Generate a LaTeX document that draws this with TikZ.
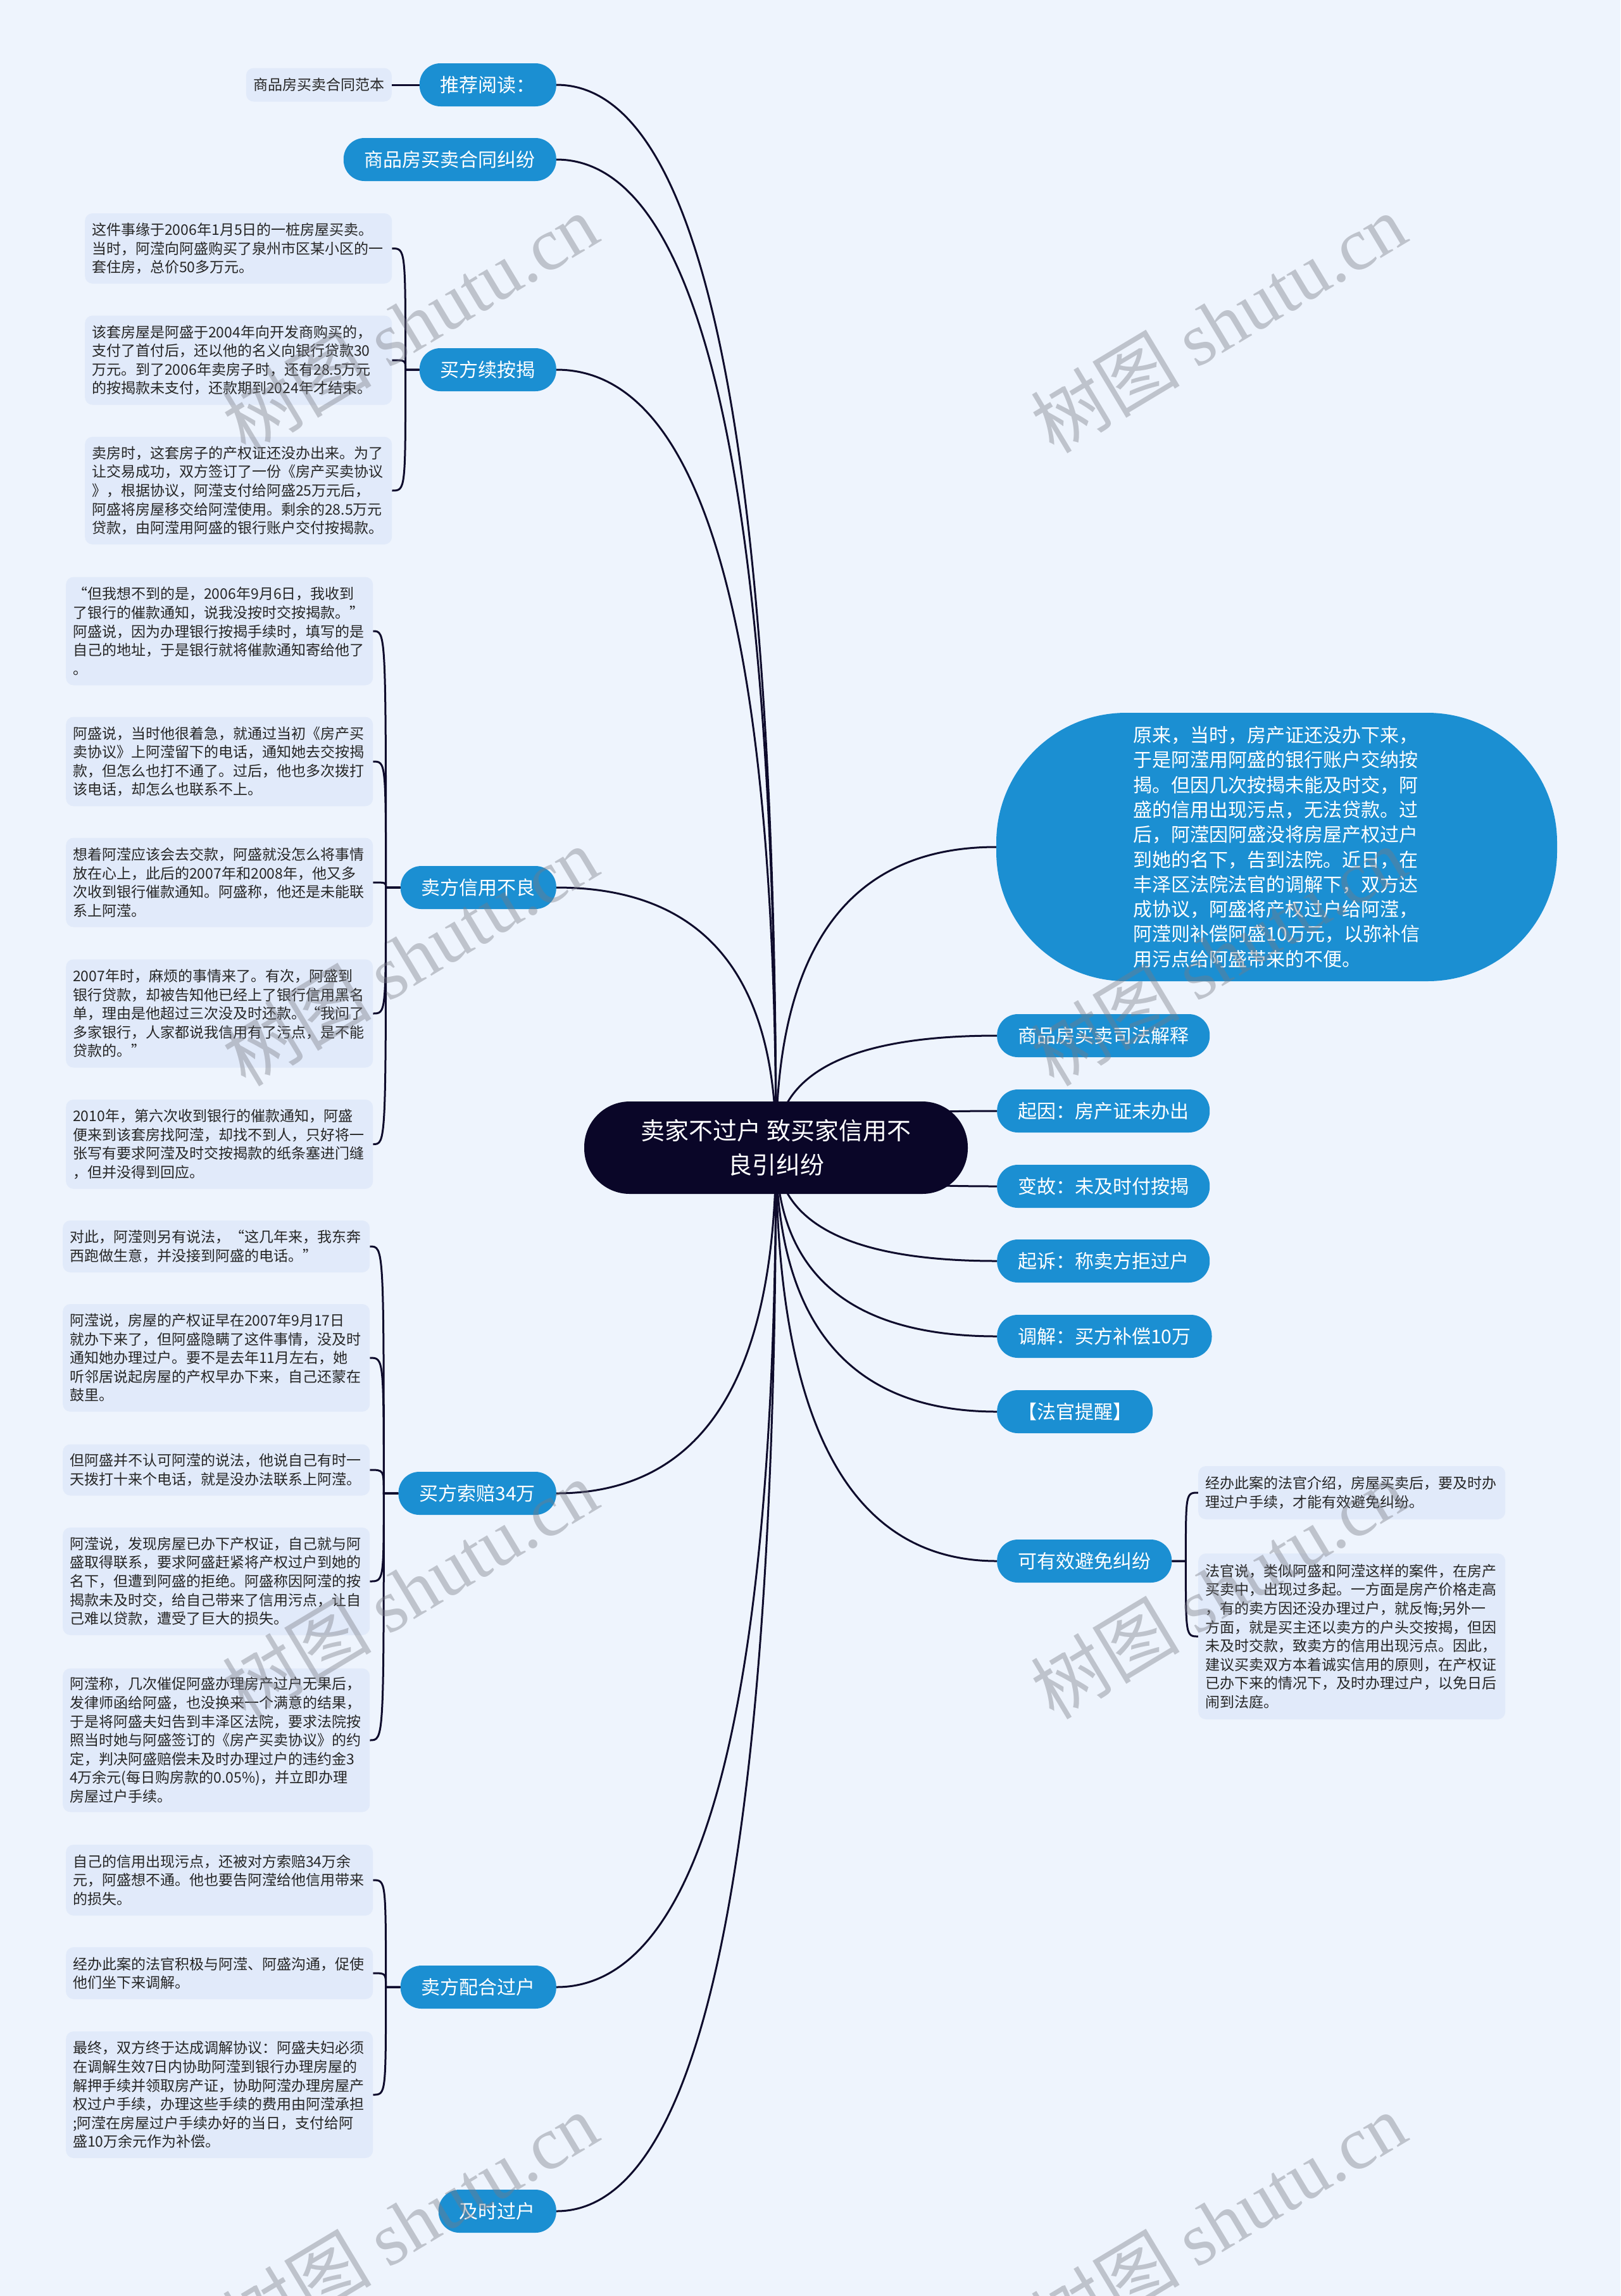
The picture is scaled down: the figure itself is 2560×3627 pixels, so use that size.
\documentclass[tikz,border=0pt]{standalone}
\usepackage{fontspec}
\setmainfont{Noto Sans CJK SC}
\newfontfamily\wmserif{Liberation Serif}
\usetikzlibrary{calc}
\definecolor{bgc}{RGB}{238,244,253}
\definecolor{nodeblue}{RGB}{27,143,210}
\definecolor{leaffill}{RGB}{225,234,250}
\definecolor{leaftext}{RGB}{38,38,38}
\definecolor{rootc}{RGB}{10,6,40}
\definecolor{linec}{RGB}{14,11,44}
\definecolor{wmc}{RGB}{120,122,132}
\pgfdeclarelayer{back}
\pgfdeclarelayer{lines}
\pgfdeclarelayer{front}
\pgfsetlayers{back,lines,main,front}
\tikzset{
  mainnode/.style={rectangle, rounded corners=33pt, fill=nodeblue, text=white,
    font=\fontsize{30pt}{36pt}\selectfont, inner xsep=33pt, inner ysep=0pt, minimum height=68pt},
  leafbox/.style={rectangle, rounded corners=12pt, fill=leaffill, text=leaftext,
    font=\fontsize{23pt}{29.6pt}\selectfont, text width=463pt, align=left,
    inner xsep=11pt, inner ysep=6pt, anchor=west},
  smallleaf/.style={rectangle, rounded corners=12pt, fill=leaffill, text=leaftext,
    font=\fontsize{23pt}{29.6pt}\selectfont, inner xsep=11.5pt, inner ysep=0pt, minimum height=53pt},
  rootnode/.style={rectangle, rounded corners=72pt, fill=rootc, text=white,
    font=\fontsize{38pt}{54pt}\selectfont, align=center, minimum width=606pt, minimum height=146pt},
  blobnode/.style={rectangle, rounded corners=205pt, fill=nodeblue, text=white,
    font=\fontsize{30pt}{39.3pt}\selectfont, align=left, minimum width=886pt, minimum height=424pt},
  link/.style={draw=linec, line width=3pt},
  wm/.style={rotate=31, text=wmc, opacity=0.4, font=\fontsize{118pt}{118pt}\selectfont},
}
\newcommand\rootlink[1]{\draw[link] (ctr) .. controls ($(ctr)!0.6667!(ctr |- #1)$) and ($(#1)!0.6667!(ctr |- #1)$) .. (#1);}
\newcommand\brk[3]{\draw[link] (#3) .. controls (#2 |- #3) and (#2 |- #3) .. (#2) -- (#1);}
\begin{document}
\begin{tikzpicture}[x=1pt,y=-1pt]
\useasboundingbox (0,0) rectangle (2560,3627);
\begin{pgfonlayer}{back}
\fill[bgc] (0,0) rectangle (2560,3627);
\end{pgfonlayer}

% root
\node[rootnode] (root) at (1226,1813) {卖家不过户 致买家信用不\\良引纠纷};
\coordinate (ctr) at (1226,1813);

% left main nodes
\node[mainnode, anchor=east] (n1) at (879,134) {推荐阅读：};
\node[mainnode, anchor=east] (n2) at (879,252) {商品房买卖合同纠纷};
\node[mainnode, anchor=east] (n3) at (879,584) {买方续按揭};
\node[mainnode, anchor=east] (n4) at (879,1402) {卖方信用不良};
\node[mainnode, anchor=east] (n5) at (879,2359) {买方索赔34万};
\node[mainnode, anchor=east] (n6) at (879,3139) {卖方配合过户};
\node[mainnode, anchor=east] (n7) at (879,3493) {及时过户};

% right main nodes
\node[blobnode] (blob) at (2017,1338) {原来，当时，房产证还没办下来，\\于是阿滢用阿盛的银行账户交纳按\\揭。但因几次按揭未能及时交，阿\\盛的信用出现污点，无法贷款。过\\后，阿滢因阿盛没将房屋产权过户\\到她的名下，告到法院。近日，在\\丰泽区法院法官的调解下，双方达\\成协议，阿盛将产权过户给阿滢，\\阿滢则补偿阿盛10万元，以弥补信\\用污点给阿盛带来的不便。};
\node[mainnode, anchor=west] (r1) at (1575,1636) {商品房买卖司法解释};
\node[mainnode, anchor=west] (r2) at (1575,1755) {起因：房产证未办出};
\node[mainnode, anchor=west] (r3) at (1575,1874) {变故：未及时付按揭};
\node[mainnode, anchor=west] (r4) at (1575,1992) {起诉：称卖方拒过户};
\node[mainnode, anchor=west] (r5) at (1575,2111) {调解：买方补偿10万};
\node[mainnode, anchor=west] (r6) at (1575,2230) {【法官提醒】};
\node[mainnode, anchor=west] (r7) at (1575,2466) {可有效避免纠纷};

% leaves
\node[smallleaf, anchor=east] (l11) at (619,134) {商品房买卖合同范本};

\node[leafbox, minimum height=111pt] (l31) at (134,392.5) {这件事缘于2006年1月5日的一桩房屋买卖。\\当时，阿滢向阿盛购买了泉州市区某小区的一\\套住房，总价50多万元。};
\node[leafbox, minimum height=141pt] (l32) at (134,569) {该套房屋是阿盛于2004年向开发商购买的，\\支付了首付后，还以他的名义向银行贷款30\\万元。到了2006年卖房子时，还有28.5万元\\的按揭款未支付，还款期到2024年才结束。};
\node[leafbox, minimum height=170pt] (l33) at (134,775) {卖房时，这套房子的产权证还没办出来。为了\\让交易成功，双方签订了一份《房产买卖协议\\》，根据协议，阿滢支付给阿盛25万元后，\\阿盛将房屋移交给阿滢使用。剩余的28.5万元\\贷款，由阿滢用阿盛的银行账户交付按揭款。};

\node[leafbox, minimum height=171pt] (l41) at (104,997) {“但我想不到的是，2006年9月6日，我收到\\了银行的催款通知，说我没按时交按揭款。”\\阿盛说，因为办理银行按揭手续时，填写的是\\自己的地址，于是银行就将催款通知寄给他了\\。};
\node[leafbox, minimum height=141pt] (l42) at (104,1203) {阿盛说，当时他很着急，就通过当初《房产买\\卖协议》上阿滢留下的电话，通知她去交按揭\\款，但怎么也打不通了。过后，他也多次拨打\\该电话，却怎么也联系不上。};
\node[leafbox, minimum height=141pt] (l43) at (104,1394) {想着阿滢应该会去交款，阿盛就没怎么将事情\\放在心上，此后的2007年和2008年，他又多\\次收到银行催款通知。阿盛称，他还是未能联\\系上阿滢。};
\node[leafbox, minimum height=171pt] (l44) at (104,1601) {2007年时，麻烦的事情来了。有次，阿盛到\\银行贷款，却被告知他已经上了银行信用黑名\\单，理由是他超过三次没及时还款。“我问了\\多家银行，人家都说我信用有了污点，是不能\\贷款的。”};
\node[leafbox, minimum height=141pt] (l45) at (104,1807.5) {2010年，第六次收到银行的催款通知，阿盛\\便来到该套房找阿滢，却找不到人，只好将一\\张写有要求阿滢及时交按揭款的纸条塞进门缝\\，但并没得到回应。};

\node[leafbox, minimum height=82pt] (l51) at (99,1969) {对此，阿滢则另有说法，“这几年来，我东奔\\西跑做生意，并没接到阿盛的电话。”};
\node[leafbox, minimum height=170pt] (l52) at (99,2145) {阿滢说，房屋的产权证早在2007年9月17日\\就办下来了，但阿盛隐瞒了这件事情，没及时\\通知她办理过户。要不是去年11月左右，她\\听邻居说起房屋的产权早办下来，自己还蒙在\\鼓里。};
\node[leafbox, minimum height=81pt] (l53) at (99,2322) {但阿盛并不认可阿滢的说法，他说自己有时一\\天拨打十来个电话，就是没办法联系上阿滢。};
\node[leafbox, minimum height=170pt] (l54) at (99,2498) {阿滢说，发现房屋已办下产权证，自己就与阿\\盛取得联系，要求阿盛赶紧将产权过户到她的\\名下，但遭到阿盛的拒绝。阿盛称因阿滢的按\\揭款未及时交，给自己带来了信用污点，让自\\己难以贷款，遭受了巨大的损失。};
\node[leafbox, minimum height=227pt] (l55) at (99,2749) {阿滢称，几次催促阿盛办理房产过户无果后，\\发律师函给阿盛，也没换来一个满意的结果，\\于是将阿盛夫妇告到丰泽区法院，要求法院按\\照当时她与阿盛签订的《房产买卖协议》的约\\定，判决阿盛赔偿未及时办理过户的违约金3\\4万余元(每日购房款的0.05\%)，并立即办理\\房屋过户手续。};

\node[leafbox, minimum height=112pt] (l61) at (104,2970) {自己的信用出现污点，还被对方索赔34万余\\元，阿盛想不通。他也要告阿滢给他信用带来\\的损失。};
\node[leafbox, minimum height=82pt] (l62) at (104,3117) {经办此案的法官积极与阿滢、阿盛沟通，促使\\他们坐下来调解。};
\node[leafbox, minimum height=200pt] (l63) at (104,3309) {最终，双方终于达成调解协议：阿盛夫妇必须\\在调解生效7日内协助阿滢到银行办理房屋的\\解押手续并领取房产证，协助阿滢办理房屋产\\权过户手续，办理这些手续的费用由阿滢承担\\;阿滢在房屋过户手续办好的当日，支付给阿\\盛10万余元作为补偿。};

\node[leafbox, minimum height=84pt] (l71) at (1893,2358) {经办此案的法官介绍，房屋买卖后，要及时办\\理过户手续，才能有效避免纠纷。};
\node[leafbox, minimum height=262pt] (l72) at (1893,2585) {法官说，类似阿盛和阿滢这样的案件，在房产\\买卖中，出现过多起。一方面是房产价格走高\\，有的卖方因还没办理过户，就反悔;另外一\\方面，就是买主还以卖方的户头交按揭，但因\\未及时交款，致卖方的信用出现污点。因此，\\建议买卖双方本着诚实信用的原则，在产权证\\已办下来的情况下，及时办理过户，以免日后\\闹到法庭。};

% junctions
\coordinate (j3) at ($(n3.west)+(-22,0)$);
\coordinate (j4) at ($(n4.west)+(-23,0)$);
\coordinate (j5) at ($(n5.west)+(-23,0)$);
\coordinate (j6) at ($(n6.west)+(-23,0)$);
\coordinate (j7) at ($(r7.east)+(22,0)$);

\begin{pgfonlayer}{lines}
\rootlink{n1.east}
\rootlink{n2.east}
\rootlink{n3.east}
\rootlink{n4.east}
\rootlink{n5.east}
\rootlink{n6.east}
\rootlink{n7.east}
\rootlink{blob.west}
\rootlink{r1.west}
\rootlink{r2.west}
\rootlink{r3.west}
\rootlink{r4.west}
\rootlink{r5.west}
\rootlink{r6.west}
\rootlink{r7.west}
\draw[link] (l11.east) -- (n1.west);
\brk{n3.west}{j3}{l31.east}
\brk{n3.west}{j3}{l32.east}
\brk{n3.west}{j3}{l33.east}
\brk{n4.west}{j4}{l41.east}
\brk{n4.west}{j4}{l42.east}
\brk{n4.west}{j4}{l43.east}
\brk{n4.west}{j4}{l44.east}
\brk{n4.west}{j4}{l45.east}
\brk{n5.west}{j5}{l51.east}
\brk{n5.west}{j5}{l52.east}
\brk{n5.west}{j5}{l53.east}
\brk{n5.west}{j5}{l54.east}
\brk{n5.west}{j5}{l55.east}
\brk{n6.west}{j6}{l61.east}
\brk{n6.west}{j6}{l62.east}
\brk{n6.west}{j6}{l63.east}
\brk{r7.east}{j7}{l71.west}
\brk{r7.east}{j7}{l72.west}
\end{pgfonlayer}

\begin{pgfonlayer}{front}
\foreach \wx in {648,1925} {
  \foreach \wy in {510,1510,2510,3510} {
    \node[wm] at (\wx,\wy) {树图 {\wmserif shutu.cn}};
  }
}
\end{pgfonlayer}
\end{tikzpicture}
\end{document}
